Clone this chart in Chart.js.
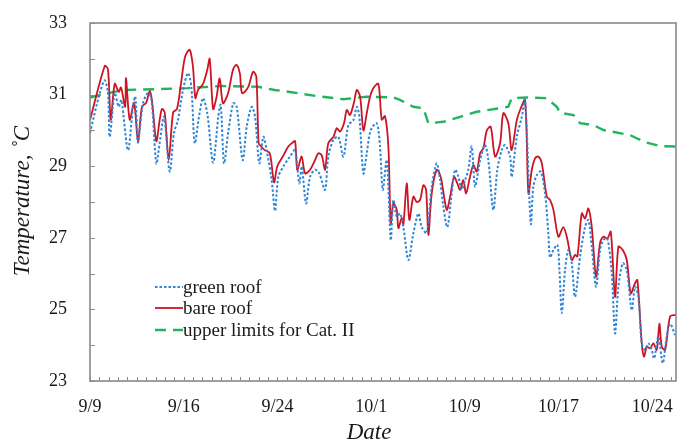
<!DOCTYPE html>
<html><head><meta charset="utf-8">
<script src="https://cdn.jsdelivr.net/npm/chart.js@4.4.1/dist/chart.umd.min.js"></script>
<style>
html,body{margin:0;padding:0;background:#fff;}
#wrap{position:relative;width:677px;height:445px;}
#legend{position:absolute;left:155px;top:276px;font:19px 'Liberation Serif',serif;color:#1a1a1a;}
#legend .row{display:flex;align-items:center;height:21.6px;white-space:nowrap;}
#legend svg{display:block;}
</style></head><body>
<div id="wrap"><canvas id="c" width="677" height="445"></canvas><div id="legend"></div></div>
<script>
// x values: days since 9/9; labels every 7.5 days, tick marks every 0.75 day
const tickLabels = ['9/9','9/16','9/24','10/1','10/9','10/17','10/24'];

const greenRoofDay = [0,0.78,1.18,1.44,1.58,1.98,2.30,2.51,3.04,3.44,3.63,3.84,4.24,4.64,4.91,5.31,5.58,5.92,6.38,6.72,7.04,7.44,7.84,8.11,8.38,8.72,9.05,9.39,9.85,10.27,10.46,10.73,11.07,11.47,11.74,12.22,12.54,12.94,13.21,13.55,13.87,14.14,14.54,14.81,15.07,15.47,16.01,16.41,16.75,16.95,17.29,17.61,18.01,18.35,18.81,19.07,19.47,19.87,20.28,20.68,21.08,21.35,21.56,21.88,22.15,22.47,22.95,23.21,23.43,23.75,24.07,24.28,24.55,24.81,25.08,25.48,25.88,26.28,26.55,26.95,27.35,27.75,28.02,28.28,28.60,28.95,29.22,29.48,29.75,30.02,30.28,30.55,30.82,31.22,31.62,31.88,32.28,32.60,32.95,33.22,33.62,33.75,34.16,34.56,34.82,35.28,35.48,35.76,36.08,36.42,36.68,36.82,37.09,37.41,37.57,37.76,38.02,38.29,38.56,38.82,39.22,39.62,39.89,40.16,40.50,40.82,41.09,41.41,41.76,42.02,42.29,42.64,42.96,43.36,43.62,43.89,44.16,44.42,44.69,44.96,45.15,45.49,45.84,46.16,46.43,46.83];
const greenRoofTemp = [29.93,31.04,31.4,31.04,29.82,31.04,30.66,30.85,29.45,30.66,30.94,29.66,30.76,31.04,30.9,29.08,29.66,30.38,28.85,29.93,30.29,31.13,31.6,31.22,29.64,30.38,30.9,30.47,29.1,30.38,30.71,29.08,29.97,30.76,30.66,29.17,30.1,30.66,30.38,29.08,29.82,29.45,28.61,27.75,28.7,28.99,29.27,29.45,28.52,28.99,27.96,28.7,28.9,28.8,28.34,29.27,29.73,29.82,29.27,30.15,30.29,30.66,30.38,28.8,29.36,30.01,30.2,29.55,28.34,29.17,26.94,28.06,27.59,27.68,27.3,26.38,27.13,27.68,27.3,27.13,28.43,29.08,28.61,27.87,27.3,28.24,28.9,28.71,28.34,28.61,28.9,29.55,28.43,29.17,29.59,29.17,27.78,28.9,29.45,29.59,29.27,28.7,29.82,30.38,30.85,27.4,28.43,28.75,28.85,28.24,27.13,26.45,26.66,26.8,26.1,24.9,26.1,26.66,26.29,25.35,26.47,27.3,27.5,26.75,25.63,26.66,26.94,26.98,26.01,24.33,25.63,26.29,26.1,24.98,25.63,25.35,24.05,23.87,24.05,23.87,23.63,24.24,23.5,24.24,24.6,24.28];

const bareRoofDay = [0,1.18,1.44,1.66,1.98,2.30,2.48,2.81,2.88,3.18,3.53,3.84,4.16,4.49,4.78,4.97,5.31,5.58,5.76,5.98,6.30,6.65,6.96,7.28,7.61,7.98,8.24,8.43,8.65,9.05,9.39,9.58,9.85,10.11,10.38,10.64,11.05,11.45,11.71,11.99,12.17,12.65,13.05,13.31,13.50,13.71,13.98,14.39,14.73,14.99,15.43,15.87,16.15,16.41,16.59,16.94,17.21,17.61,18.01,18.28,18.55,18.81,19.07,19.48,19.75,20.01,20.33,20.55,20.81,21.14,21.35,21.62,21.88,22.15,22.41,22.67,23.08,23.35,23.61,23.88,24.07,24.28,24.55,24.68,24.95,25.08,25.35,25.56,25.88,26.15,26.42,26.68,26.90,27.08,27.35,27.75,28.07,28.55,28.82,29.14,29.40,29.62,29.88,30.10,30.41,30.68,30.95,31.22,31.48,31.76,32.07,32.42,32.82,33.08,33.48,33.75,34.16,34.42,34.82,35.09,35.36,35.62,35.88,36.16,36.56,36.82,37.09,37.49,37.88,38.16,38.56,38.82,39.01,39.36,39.62,39.89,40.16,40.50,40.82,41.09,41.41,41.68,42.02,42.29,42.64,42.96,43.28,43.62,43.81,44.16,44.34,44.56,44.82,45.09,45.36,45.57,45.76,46.03,46.43,46.9];
const bareRoofTemp = [30.29,31.8,31.7,30.3,31.3,31.08,31.2,30.66,31.46,30.3,30.77,29.7,30.66,30.77,31.1,30.8,29.7,30.3,30.6,30.5,29.17,30.5,30.6,31.3,32.06,32.25,31.78,30.9,31.13,31.3,31.7,32.0,30.6,30.9,31.45,30.76,31.04,31.7,31.83,31.6,31.04,31.2,31.64,31.5,29.64,29.55,29.45,29.36,28.55,29.0,29.27,29.55,29.64,29.7,28.9,29.27,28.8,28.9,29.17,29.36,29.3,28.9,29.64,29.82,30.06,29.97,30.2,30.57,30.43,30.8,31.13,30.94,30.0,30.48,30.94,31.18,31.3,30.3,30.4,29.55,27.4,27.96,27.78,27.27,27.55,27.36,28.52,27.5,28.15,28.0,28.06,28.47,28.34,27.08,28.24,28.9,28.7,27.78,28.15,28.7,28.52,28.34,28.61,28.24,28.7,29.03,28.85,29.36,29.5,30.0,30.1,29.27,29.64,30.48,30.2,29.45,30.29,30.57,30.85,28.24,28.9,29.22,29.27,29.08,28.15,28.06,27.78,27.03,27.3,27.03,26.38,26.52,26.48,27.68,27.54,27.82,27.3,25.91,26.85,27.03,26.98,27.17,25.35,26.75,26.66,26.38,25.45,25.73,25.82,24.05,23.68,23.96,23.91,24.05,23.87,24.6,23.96,23.87,24.8,24.85];

const limitDay = [0,1.44,2.78,5.18,7.84,10.51,13.45,14.78,15.85,18.15,20.28,22.15,24.28,24.81,25.88,26.68,27.08,28.28,29.62,30.95,32.82,33.48,33.75,34.96,36.56,37.36,37.62,38.69,39.22,40.29,41.09,43.22,43.75,44.56,45.62,46.9];
const limitTemp = [30.92,31.04,31.13,31.15,31.18,31.24,31.22,31.13,31.08,30.96,30.87,30.94,30.92,30.85,30.66,30.62,30.2,30.24,30.38,30.52,30.62,30.66,30.9,30.92,30.9,30.66,30.49,30.43,30.2,30.15,30.01,29.87,29.78,29.66,29.56,29.55];

const pts = (xs, ys) => xs.map((x, i) => ({x, y: ys[i]}));

const datasets = [
  {label:'green roof', data:pts(greenRoofDay, greenRoofTemp), borderColor:'#2f86d6', borderWidth:2, borderDash:[2.5,2], tension:0.3, pointRadius:0},
  {label:'bare roof', data:pts(bareRoofDay, bareRoofTemp), borderColor:'#cc1424', borderWidth:1.8, tension:0.3, pointRadius:0},
  {label:'upper limits for Cat. II', data:pts(limitDay, limitTemp), borderColor:'#22b45c', borderWidth:2.4, borderDash:[11,7], tension:0, pointRadius:0}
];

const framePlugin = {
  id:'frame',
  afterDatasetsDraw(chart){
    const {ctx, chartArea:a, scales:{x, y}} = chart;
    ctx.save();
    ctx.strokeStyle = '#8c8c8c'; ctx.lineWidth = 1;
    ctx.beginPath();
    x.ticks.forEach(t => { const px = Math.round(x.getPixelForValue(t.value)) + 0.5; ctx.moveTo(px, a.bottom); ctx.lineTo(px, a.bottom - 4); });
    y.ticks.forEach(t => { const py = Math.round(y.getPixelForValue(t.value)) + 0.5; ctx.moveTo(a.left, py); ctx.lineTo(a.left + 5, py); });
    ctx.stroke();
    ctx.lineWidth = 1.6; ctx.strokeStyle = '#8a8a8a';
    ctx.strokeRect(a.left, a.top, a.right - a.left, a.bottom - a.top);
    ctx.fillStyle = '#1a1a1a';
    ctx.font = "italic 23px 'Liberation Serif'";
    ctx.textAlign = 'center'; ctx.textBaseline = 'middle';
    ctx.fillText('Date', 369, 433);
    ctx.translate(23, 201); ctx.rotate(-Math.PI / 2);
    ctx.fillText('Temperature, \u02DAC', 0, 0);
    ctx.restore();
  }
};

const tickFont = {family:"'Liberation Serif'", size:18};
const chart = new Chart(document.getElementById('c'), {
  type:'line',
  data:{datasets},
  options:{
    responsive:false, animation:false, devicePixelRatio:1,
    layout:{padding:{top:23, right:1, left:0, bottom:0}},
    plugins:{legend:{display:false}, tooltip:{enabled:false}},
    scales:{
      x:{type:'linear', min:0, max:46.9,
        afterBuildTicks:(s) => { s.ticks = Array.from({length:63}, (_, k) => ({value:k * 0.75})); },
        afterFit:(s) => { s.height = 64; s.paddingLeft = 0; s.paddingRight = 0; },
        grid:{display:false, drawTicks:false}, border:{display:false},
        ticks:{autoSkip:false, maxRotation:0, padding:15, color:'#1a1a1a', font:tickFont,
          callback:(v, i) => (i % 10 === 0 ? tickLabels[i / 10] : '')}
      },
      y:{min:23, max:33,
        afterFit:(s) => { s.width = 90; s.paddingTop = 0; s.paddingBottom = 0; },
        grid:{display:false, drawTicks:false}, border:{display:false},
        ticks:{stepSize:1, padding:23, color:'#1a1a1a', font:tickFont,
          callback:(v) => (v % 2 === 1 ? v : '')}
      }
    }
  },
  plugins:[framePlugin]
});

// HTML legend from the datasets
const leg = document.getElementById('legend');
datasets.forEach(d => {
  const row = document.createElement('div'); row.className = 'row';
  const dash = d.borderDash ? d.borderDash.join(',') : 'none';
  row.innerHTML = `<svg width="28" height="6"><line x1="0" y1="3" x2="28" y2="3" stroke="${d.borderColor}" stroke-width="${d.borderWidth}" stroke-dasharray="${dash}"/></svg><span>${d.label}</span>`;
  leg.appendChild(row);
});
</script>
</body></html>
